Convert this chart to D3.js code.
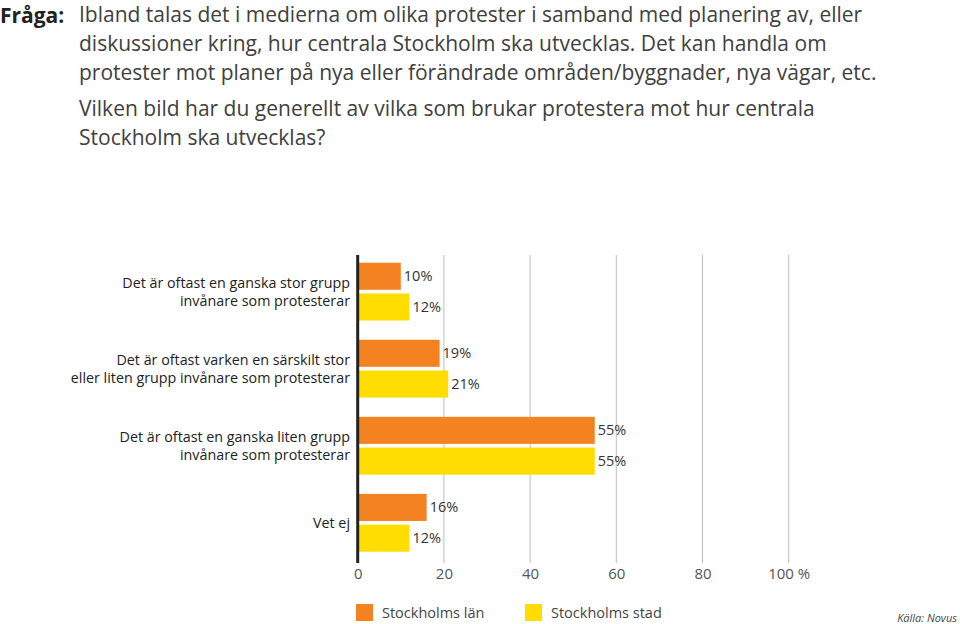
<!DOCTYPE html>
<html><head><meta charset="utf-8">
<script src="https://cdn.jsdelivr.net/npm/d3@7"></script>
<style>body{margin:0;background:#fff}svg{display:block}</style>
</head><body>
<script>
const titleLabel = "Fråga:";
const questionLines1 = [
  "Ibland talas det i medierna om olika protester i samband med planering av, eller",
  "diskussioner kring, hur centrala Stockholm ska utvecklas. Det kan handla om",
  "protester mot planer på nya eller förändrade områden/byggnader, nya vägar, etc."
];
const questionLines2 = [
  "Vilken bild har du generellt av vilka som brukar protestera mot hur centrala",
  "Stockholm ska utvecklas?"
];
const categories = [
  ["Det är oftast en ganska stor grupp", "invånare som protesterar"],
  ["Det är oftast varken en särskilt stor", "eller liten grupp invånare som protesterar"],
  ["Det är oftast en ganska liten grupp", "invånare som protesterar"],
  ["Vet ej"]
];
const seriesNames = ["Stockholms län", "Stockholms stad"];
const lanValues = [10, 19, 55, 16];
const stadValues = [12, 21, 55, 12];
const xTicks = [0, 20, 40, 60, 80, 100];
const source = "Källa: Novus";
const colors = ["#F58220", "#FFDD00"];

const W = 960, H = 624;
const font = "'Open Sans', sans-serif";
const svg = d3.select("body").append("svg").attr("width", W).attr("height", H)
  .style("font-family", font);

// Title
svg.append("text").attr("x", 0).attr("y", 23).attr("font-size", 21).attr("font-weight", 700)
  .attr("fill", "#222").text(titleLabel);
const qg = svg.append("g").attr("font-size", 21).attr("fill", "#404040").attr("font-weight", 400);
questionLines1.forEach((t, i) => qg.append("text").attr("x", 79).attr("y", 22 + i * 29).text(t));
questionLines2.forEach((t, i) => qg.append("text").attr("x", 79).attr("y", 116 + i * 29).text(t));

// Scales
const x = d3.scaleLinear().domain([0, 100]).range([357.7, 788.7]);
const y = d3.scaleBand().domain(d3.range(categories.length)).range([255, 559.4]).paddingInner(0.25).paddingOuter(0.1);
const ySub = d3.scaleBand().domain([0, 1]).range([0, y.bandwidth()]).paddingInner(0.12);

// Grid
const grid = svg.append("g");
xTicks.slice(1).forEach(t => {
  grid.append("line").attr("x1", x(t)).attr("x2", x(t)).attr("y1", 255).attr("y2", 563)
    .attr("stroke", "#bdbdbd").attr("stroke-width", 1);
});

// Bars
const series = [lanValues, stadValues];
series.forEach((vals, s) => {
  vals.forEach((v, i) => {
    const y0 = y(i) + ySub(s);
    svg.append("rect").attr("x", x(0)).attr("y", y0).attr("width", x(v) - x(0))
      .attr("height", ySub.bandwidth()).attr("fill", colors[s]);
    svg.append("text").attr("x", x(v) + 3).attr("y", y0 + ySub.bandwidth() / 2)
      .attr("dy", "0.35em").attr("font-size", 14.5).attr("fill", "#333")
      .text(v + "%");
  });
});

// Axis line at 0
svg.append("line").attr("x1", x(0)).attr("x2", x(0)).attr("y1", 255).attr("y2", 563)
  .attr("stroke", "#222").attr("stroke-width", 3);

// Category labels
categories.forEach((lines, i) => {
  const cy = y(i) + y.bandwidth() / 2;
  const n = lines.length, lh = 18;
  lines.forEach((t, j) => {
    svg.append("text").attr("x", 350).attr("y", cy + (j - (n - 1) / 2) * lh).attr("dy", "0.35em")
      .attr("text-anchor", "end").attr("font-size", 14.3).attr("fill", "#222").text(t);
  });
});

// X tick labels
const axis = d3.axisBottom(x).tickValues(xTicks).tickSize(0).tickPadding(0)
  .tickFormat(d => d === 100 ? "100 %" : d);
const ax = svg.append("g").attr("transform", "translate(0,568)").call(axis);
ax.select(".domain").remove();
ax.selectAll("text").attr("font-size", 15).attr("fill", "#555")
  .style("font-family", font).attr("dy", "0.71em");

// Legend
const lg = svg.append("g");
const legX = [356, 525];
seriesNames.forEach((n, i) => {
  lg.append("rect").attr("x", legX[i]).attr("y", 604).attr("width", 17).attr("height", 17).attr("fill", colors[i]);
  lg.append("text").attr("x", legX[i] + 26).attr("y", 613).attr("dy", "0.35em")
    .attr("font-size", 14.5).attr("fill", "#444").text(n);
});
svg.append("text").attr("x", 957).attr("y", 618).attr("dy", "0.35em").attr("text-anchor", "end")
  .attr("font-size", 11).attr("font-style", "italic").attr("fill", "#444").text(source);
</script>
</body></html>
